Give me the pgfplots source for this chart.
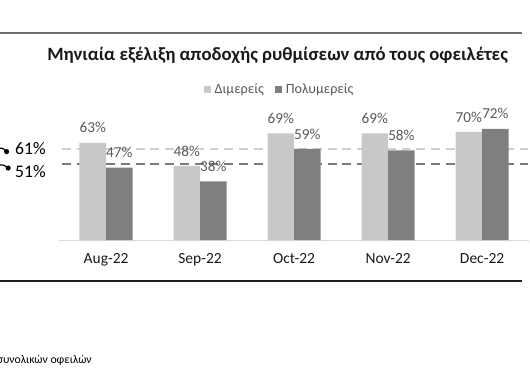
\documentclass[border=0pt]{standalone}
\usepackage{pgfplots}
\pgfplotsset{compat=1.18}
\usepackage{fontspec}
\setmainfont{Carlito}
\definecolor{barlight}{HTML}{C8C8C8}
\definecolor{bardark}{HTML}{7F7F7F}
\definecolor{lbl}{HTML}{595959}
\definecolor{dashlight}{HTML}{D0D0D0}
\definecolor{dashdark}{HTML}{7A7A7A}
\definecolor{axisgray}{HTML}{D9D9D9}
\definecolor{topline}{HTML}{6E6E6E}
\begin{document}
\begin{tikzpicture}
\begin{scope}[x=1bp,y=-1bp]
\path[use as bounding box] (0,0) rectangle (530,387);
\draw[line width=1.6bp, topline] (0,33.7) -- (530,33.7);
\draw[line width=1.6bp, black!88] (0,285.7) -- (530,285.7);
\node[font=\bfseries\fontsize{19.1}{19.1}\selectfont, text=black!90, anchor=base] at (282,61.8) {Μηνιαία εξέλιξη αποδοχής ρυθμίσεων από τους οφειλέτες};
\node[font=\fontsize{18}{18}\selectfont, anchor=base west, inner sep=0pt] at (15.2,156.7) {61\%};
\node[font=\fontsize{18}{18}\selectfont, anchor=base west, inner sep=0pt] at (15.2,180) {51\%};
\draw[line width=1.2bp] (-1,150.5) .. controls (3,150.5) .. (6.7,154);
\fill (6.7,154) circle (2.6);
\draw[line width=1.2bp] (-1,167.5) .. controls (4,167.5) .. (8.3,170.7);
\fill (8.3,170.7) circle (2.6);
\node[font=\fontsize{12}{12}\selectfont, anchor=base west, inner sep=0pt] at (-3.5,369.3) {συνολικών οφειλών};
\end{scope}
\begin{axis}[
  at={(60bp,-244bp)}, anchor=south west,
  scale only axis, width=477.5bp, height=125.7bp,
  xmin=-0.5, xmax=4.5, ymin=0, ymax=80,
  axis y line=none, axis x line*=bottom,
  x axis line style={axisgray, line width=1bp},
  xtick={0,1,2,3,4},
  xticklabels={Aug-22,Sep-22,Oct-22,Nov-22,Dec-22},
  major tick length=0pt,
  xticklabel style={font=\fontsize{15.8}{15.8}\selectfont, text=black!90, anchor=base, yshift=-23.5bp},
  /pgf/number format/assume math mode=true,
  clip=false,
  legend style={at={(0.469,1.221)}, anchor=center, draw=none, fill=none,
    font=\fontsize{14.4}{14.4}\selectfont, text=lbl, legend columns=2,
    /tikz/every even column/.append style={column sep=9bp},
    /tikz/every odd column/.append style={column sep=0bp}},
  legend image code/.code={\fill[#1] (0bp,-3.6bp) rectangle (7.3bp,3.6bp);},
]
\addplot[dashlight, line width=1.8bp, dash pattern=on 9bp off 6bp, forget plot] coordinates {(-0.47,59) (4.5,59)};
\addplot[dashdark, line width=1.8bp, dash pattern=on 9bp off 6bp, forget plot] coordinates {(-0.47,49.2) (4.5,49.2)};
\addplot[ybar, bar width=27bp, bar shift=-13.5bp, fill=barlight, draw=none,
  nodes near coords={\pgfmathprintnumber{\pgfplotspointmeta}\%},
  every node near coord/.style={font=\fontsize{15.5}{15.5}\selectfont, text=lbl, anchor=base, xshift=-13.5bp, yshift=10bp, inner sep=0pt}]
  coordinates {(0,63) (1,48) (2,69) (3,69) (4,70)};
\addlegendentry{\hspace{2bp}Διμερείς}
\addplot[ybar, bar width=27bp, bar shift=13.5bp, fill=bardark, draw=none,
  nodes near coords={\pgfmathprintnumber{\pgfplotspointmeta}\%},
  every node near coord/.style={font=\fontsize{15.5}{15.5}\selectfont, text=lbl, anchor=base, xshift=13.5bp, yshift=10bp, inner sep=0pt}]
  coordinates {(0,47) (1,38) (2,59) (3,58) (4,72)};
\addlegendentry{\hspace{2bp}Πολυμερείς}
\end{axis}
\end{tikzpicture}
\end{document}
